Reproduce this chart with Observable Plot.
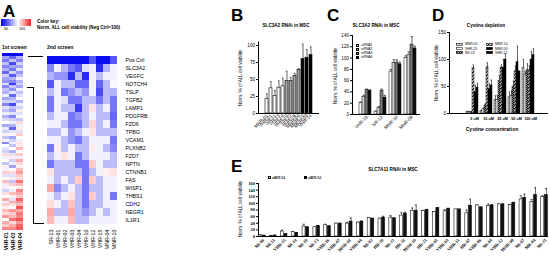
<!DOCTYPE html>
<html><head><meta charset="utf-8">
<script src="https://cdn.jsdelivr.net/npm/d3@7"></script>
<script src="https://cdn.jsdelivr.net/npm/@observablehq/plot@0.6"></script>
<style>
body{margin:0;background:#fff;}
#root{position:relative;width:550px;height:259px;overflow:hidden;font-family:"Liberation Sans",Arial,sans-serif;color:#000;}
.letter{position:absolute;font-weight:bold;font-size:17px;line-height:1;}
.t{position:absolute;white-space:nowrap;line-height:1;font-size:5px;}
.b{font-weight:bold;}
.yl{position:absolute;white-space:nowrap;line-height:1;font-size:4.6px;transform:translate(-50%,-50%) rotate(-90deg);}
.ln{position:absolute;border-color:#000;border-style:solid;border-width:0;}
.sw{position:absolute;border:0.6px solid #000;box-sizing:border-box;}
</style></head><body>
<svg width="0" height="0" style="position:absolute">
<defs>
<pattern id="pDiag" width="2.4" height="2.4" patternUnits="userSpaceOnUse" patternTransform="rotate(45)">
<rect width="2.4" height="2.4" fill="#fff"/><rect width="1.1" height="2.4" fill="#000"/></pattern>
<pattern id="pCheck" width="2" height="2" patternUnits="userSpaceOnUse">
<rect width="2" height="2" fill="#aaa"/><rect width="1" height="1" fill="#222"/><rect x="1" y="1" width="1" height="1" fill="#222"/></pattern>
<pattern id="pHoriz" width="2" height="1.6" patternUnits="userSpaceOnUse">
<rect width="2" height="1.6" fill="#e4e4e4"/><rect width="2" height="0.5" fill="#888"/></pattern>
</defs></svg>
<div id="root"></div>
<script>
// ================= DATA =================
// Panel A – colour key
const keyValues = [20, 30, 40, 50, 60, 70, 80, 90, 100, 110, 120, 130, 140, 150, 160];
const keyLabels = ["60", "100"];
// Panel A – 1st screen (rows top to bottom)
const screen1Cols = ["VHR-01", "VHR-03", "VHR-04"];
const screen1VHR01 = [20, 70, 55, 80, 60, 75, 50, 85, 70, 65, 90, 60, 80, 75, 95, 70, 85, 60, 90, 80,
  95, 75, 88, 100, 70, 92, 85, 105, 80, 95, 60, 100, 90, 85, 110, 95, 100, 80, 105, 95,
  115, 90, 100, 120, 95, 105, 85, 110, 100, 125, 95, 115, 105, 120, 110, 130, 100, 125, 115, 135];
const screen1VHR03 = [15, 50, 80, 40, 70, 55, 85, 45, 75, 60, 35, 80, 65, 90, 50, 75, 85, 40, 80, 70,
  90, 60, 85, 95, 75, 50, 90, 100, 70, 85, 95, 80, 100, 75, 90, 105, 85, 95, 70, 100,
  110, 90, 105, 80, 115, 100, 95, 120, 105, 90, 125, 110, 100, 130, 115, 120, 140, 110, 125, 135];
const screen1VHR04 = [20, 75, 60, 85, 70, 90, 65, 80, 95, 75, 85, 70, 95, 80, 90, 100, 75, 95, 85, 105,
  90, 100, 80, 110, 95, 105, 90, 115, 100, 95, 110, 105, 120, 100, 115, 95, 125, 110, 105, 120,
  130, 115, 110, 140, 120, 105, 135, 125, 115, 145, 130, 120, 150, 125, 140, 135, 150, 130, 145, 150];
// Panel A – 2nd screen
const screen2Cols = ["SR-13", "VHR-01", "VHR-02", "VHR-03", "VHR-04", "VHR-10", "VHR-12", "VHR-15", "MNR-04", "MNR-10"];
const screen2Genes = ["Pos Ctrl", "SLC3A2", "VEGFC", "NOTCH4", "TSLP", "TGFB2", "LAMP1", "PDGFRB", "FZD6", "TPBG", "VCAM1",
  "PLXNB2", "FZD7", "NPTN", "CTNNB1", "FAS", "WISP1", "THBS1", "CDH2", "NEGR1", "IL1R1"];
const screen2Values = [
  [20, 20, 20, 20, 20, 20, 45, 20, 20, 45],
  [60, 95, 75, 55, 45, 90, 95, 30, 75, 95],
  [75, 65, 65, 30, 78, 30, 95, 78, 95, 95],
  [45, 95, 78, 78, 50, 50, 95, 50, 78, 98],
  [78, 95, 55, 65, 78, 65, 95, 40, 78, 75],
  [55, 95, 90, 55, 55, 78, 78, 55, 78, 55],
  [55, 95, 78, 78, 35, 78, 108, 78, 95, 55],
  [78, 95, 95, 55, 65, 78, 95, 78, 78, 50],
  [95, 95, 78, 55, 55, 78, 112, 78, 95, 55],
  [78, 78, 95, 65, 78, 95, 108, 78, 78, 78],
  [95, 95, 78, 65, 55, 78, 95, 95, 95, 55],
  [55, 105, 78, 95, 78, 78, 105, 95, 78, 60],
  [78, 95, 108, 95, 55, 78, 95, 95, 95, 78],
  [55, 78, 78, 78, 55, 55, 115, 95, 78, 78],
  [108, 78, 78, 78, 78, 55, 78, 95, 105, 108],
  [95, 78, 95, 78, 115, 55, 115, 78, 95, 95],
  [125, 60, 78, 95, 78, 55, 78, 78, 95, 95],
  [95, 78, 95, 108, 78, 55, 115, 78, 95, 55],
  [110, 95, 78, 118, 78, 55, 78, 78, 95, 95],
  [125, 78, 78, 125, 78, 65, 78, 95, 78, 95],
  [120, 95, 95, 120, 78, 78, 95, 95, 95, 95]
];
// Panel B
const bLines = ["MNR-01", "VHR-01", "SR-11", "SR-13", "SR-14", "VHR-10", "SR-22", "VHR-16", "MNR-04", "MNR-10", "MNR-09", "VHR-14"];
const bValues = [21, 37, 26, 38, 40, 48, 48, 55, 64, 80, 82, 86];
const bErrors = [8, 10, 8, 10, 12, 14, 5, 4, 2, 22, 12, 12];
const bTier = ["weak", "weak", "weak", "weak", "weak", "mid", "mid", "mid", "mid", "strong", "strong", "strong"];
const bYTicks = [0, 25, 50, 75, 100];
// Panel C
const cLines = ["VHR-15", "SR-13", "MNR-10", "MNR-09"];
const cSeries = ["siRNA1", "siRNA2", "siRNA3", "siRNA4"];
const cSiRNA1 = [20, 5, 76, 100];
const cSiRNA2 = [31, 12, 91, 106];
const cSiRNA3 = [43, 42, 92, 124];
const cSiRNA4 = [42, 30, 89, 117];
const cErr1 = [2, 1, 4, 4];
const cErr2 = [3, 2, 6, 5];
const cErr3 = [2, 3, 5, 14];
const cErr4 = [2, 4, 4, 4];
const cYTicks = [0, 20, 40, 60, 80, 100, 120, 140];
// Panel D
const dConc = ["5 uM", "10 uM", "25 uM", "50 uM", "100 uM"];
const dLines = ["MNR-01", "VHR-15", "SR-13", "MNR-10", "MNR-09", "VHR-12"];
const dMNR01 = [3, 5, 25, 30, 85];
const dVHR15 = [3, 8, 25, 32, 72];
const dSR13 = [3, 15, 60, 50, 80];
const dMNR10 = [85, 86, 85, 78, 80];
const dMNR09 = [40, 45, 85, 95, 100];
const dVHR12 = [48, 52, 100, 78, 108];
const dErrMNR01 = [1, 1, 8, 10, 15];
const dErrVHR15 = [1, 2, 8, 10, 5];
const dErrSR13 = [1, 3, 10, 10, 12];
const dErrMNR10 = [5, 8, 5, 10, 8];
const dErrMNR09 = [12, 10, 15, 30, 15];
const dErrVHR12 = [8, 10, 10, 0, 12];
const dYTicks = [0, 50, 100, 150];
// Panel E
const eLines = ["SR-06", "SR-11", "VHR-15", "SR-14", "SR-10", "SR-13", "VHR-16", "VHR-07", "MNR-01", "VHR-04", "SR-02", "HR-20", "SR-22", "HR-31",
  "MNR-10", "HR-21", "VHR-01", "VHR-03", "VHR-11", "HR-07", "VHR-06", "SR-04", "VHR-12", "MNR-09", "SR-07", "MR-04", "SR-23"];
const eSeries = ["siRNA1", "siRNA2"];
const eSiRNA1 = [5, 2, 15, 13, 30, 28, 35, 39, 39, 42, 56, 54, 57, 63, 77, 77, 74, 76, 82, 70, 94, 92, 97, 95, 112, 104, 119];
const eSiRNA2 = [3, 3, 7, 11, 28, 32, 31, 39, 45, 45, 54, 57, 55, 69, 78, 80, 86, 84, 82, 93, 88, 94, 97, 102, 117, 125, 125];
const eErr1 = [1, 0, 4, 1, 7, 1, 2, 1, 3, 1, 1, 1, 6, 9, 9, 2, 1, 5, 0, 10, 1, 6, 1, 2, 11, 8, 4];
const eErr2 = [0, 1, 1, 1, 1, 1, 1, 1, 11, 2, 1, 4, 1, 4, 17, 2, 1, 1, 0, 20, 1, 2, 1, 1, 11, 22, 20];
const eYTicks = [0, 20, 40, 60, 80, 100, 120, 140, 160];

// ================= STYLES =================
const SANS = "'Liberation Sans', Arial, sans-serif";
const SERIF = "'Liberation Serif', 'Times New Roman', serif";
const bFill = {weak: "#ffffff", mid: "#a3a3a3", strong: "#000000"};
const cFill = {siRNA1: "#ffffff", siRNA2: "#cfcfcf", siRNA3: "#7a7a7a", siRNA4: "#111111"};
const dFill = {"MNR-01": "url(#pHoriz)", "VHR-15": "#ffffff", "SR-13": "url(#pCheck)", "MNR-10": "url(#pDiag)", "MNR-09": "#000000", "VHR-12": "#000000"};
const eFill = {siRNA1: "#ffffff", siRNA2: "#111111"};
const heatColor = {type: "linear", domain: [20, 100, 160], range: ["#0c0cf2", "#ffffff", "#ff3030"], interpolate: "rgb", clamp: true};

// ================= HELPERS =================
const root = document.getElementById("root");
function put(el, left, top) {
  el.style.position = "absolute"; el.style.left = left + "px"; el.style.top = top + "px";
  root.appendChild(el); return el;
}
function txt(s, left, top, cls, css) {
  const d = document.createElement("div");
  d.className = cls || "t"; d.textContent = s;
  if (css) Object.assign(d.style, css);
  d.style.left = left + "px"; d.style.top = top + "px";
  root.appendChild(d); return d;
}
function line(left, top, w, h, sides) {
  const d = document.createElement("div"); d.className = "ln";
  Object.assign(d.style, {left: left + "px", top: top + "px", width: w + "px", height: h + "px"});
  sides.forEach(s => d.style["border" + s + "Width"] = "0.8px");
  root.appendChild(d);
}
function plotAt(box, frame, marginRight, marginBottom, opts, style) {
  const svg = Plot.plot(Object.assign({
    marginLeft: frame.x0 - box.left,
    marginTop: frame.y0 - box.top,
    marginRight, marginBottom,
    width: frame.x1 - box.left + marginRight,
    height: frame.y1 - box.top + marginBottom
  }, opts, {style: Object.assign({background: "transparent", overflow: "visible", fontFamily: SANS, fontSize: "5px", color: "#000"}, style || {})}));
  return put(svg, box.left, box.top);
}
function groupedKeys(groups, series, gap, lead) {
  const keys = [];
  for (let i = 0; i < lead; i++) keys.push("lead" + i);
  groups.forEach((g, gi) => {
    if (gi > 0) for (let k = 0; k < gap; k++) keys.push("gap" + gi + "_" + k);
    series.forEach(s => keys.push(g + "|" + s));
  });
  return keys;
}
function barMarks(data, cap, sw) {
  return [
    Plot.ruleX(data.filter(d => d.err > 0), {x: "key", y1: "value", y2: d => d.value + d.err, stroke: "#000", strokeWidth: 0.6}),
    Plot.tickY(data.filter(d => d.err > 0), {x: "key", y: d => d.value + d.err, stroke: "#000", strokeWidth: 0.6, insetLeft: cap, insetRight: cap}),
    Plot.barY(data, {x: "key", y: "value", fill: "fill", stroke: "#000", strokeWidth: sw}),
    Plot.ruleY([0], {stroke: "#000", strokeWidth: 1})
  ];
}
function yAxis(domain, ticks) {
  return {domain, ticks, tickSize: 2, tickPadding: 1.5, line: true, label: null, nice: false};
}

// ================= PANEL A =================
txt("A", 3, 3, "letter");
plotAt({left: 1, top: 19}, {x0: 1, x1: 31, y0: 19, y1: 26}, 0, 0, {
  x: {type: "band", domain: keyValues, padding: 0, axis: null},
  color: heatColor,
  marks: [Plot.cell(keyValues, {x: d => d, fill: d => d})]
});
txt(keyLabels[0], 4, 28, "t", {fontSize: "3.8px"});
txt(keyLabels[1], 19, 28, "t", {fontSize: "3.8px"});
txt("Color key:", 37, 20, "t b", {fontSize: "4.6px"});
txt("Norm. ALL cell viability   (Neg Ctrl=100)", 37, 26, "t b", {fontSize: "4.6px"});
txt("1st screen", 2, 45, "t b", {fontSize: "5px"});
txt("2nd screen", 47, 45, "t b", {fontSize: "5px"});

const screen1Data = [];
[screen1VHR01, screen1VHR03, screen1VHR04].forEach((arr, ci) =>
  arr.forEach((v, ri) => screen1Data.push({col: screen1Cols[ci], row: ri, v})));
plotAt({left: 0, top: 51}, {x0: 2, x1: 23, y0: 53, y1: 230}, 0, 28, {
  x: {domain: screen1Cols, padding: 0, tickSize: 0, tickPadding: 2, tickRotate: -90, label: null},
  y: {domain: d3.range(screen1VHR01.length), padding: 0, axis: null},
  color: heatColor,
  marks: [Plot.cell(screen1Data, {x: "col", y: "row", fill: "v", shapeRendering: "crispEdges"})]
}, {fontSize: "5px", fontWeight: "bold"});

const screen2Data = screen2Values.flatMap((row, ri) => row.map((v, ci) => ({gene: screen2Genes[ri], col: screen2Cols[ci], v})));
plotAt({left: 43, top: 51}, {x0: 45, x1: 118, y0: 53, y1: 227}, 42, 30, {
  x: {domain: screen2Cols, padding: 0, tickSize: 0, tickPadding: 2, tickRotate: -90, label: null},
  y: {domain: screen2Genes, padding: 0, axis: "right", tickSize: 0, tickPadding: 7, label: null},
  color: heatColor,
  marks: [Plot.cell(screen2Data, {x: "col", y: "gene", fill: "v"})]
}, {fontSize: "5.3px"});
// connector brackets
line(28, 56, 15, 0, ["Top"]);
line(27, 87, 6, 0, ["Top"]);
line(33, 87, 0, 136, ["Left"]);
line(33, 223, 11, 0, ["Top"]);

// ================= PANEL B =================
txt("B", 231, 7, "letter");
txt("SLC3A2 RNAi in MSC", 286, 24, "t b", {fontSize: "4.6px", transform: "translateX(-50%)"});
txt("Norm. % of ALL cell viability", 241, 78, "yl");
const bData = bLines.map((l, i) => ({key: l, value: bValues[i], err: bErrors[i], fill: bFill[bTier[i]]}));
plotAt({left: 225, top: 30}, {x0: 258, x1: 319, y0: 41.6, y1: 113}, 2, 22, {
  x: {domain: bLines, padding: 0.28, tickSize: 0, tickPadding: 1.5, tickRotate: -45, label: null},
  y: yAxis([0, 105], bYTicks),
  color: {type: "identity"},
  marks: barMarks(bData, 0.9, 0.6)
}, {fontSize: "4.6px"});

// ================= PANEL C =================
txt("C", 327, 7, "letter");
txt("SLC3A2 RNAi in MSC", 376, 24, "t b", {fontSize: "4.6px", transform: "translateX(-50%)"});
txt("Norm. % of ALL cell viability", 336, 76, "yl");
const cVals = [cSiRNA1, cSiRNA2, cSiRNA3, cSiRNA4];
const cErrs = [cErr1, cErr2, cErr3, cErr4];
const cData = cLines.flatMap((g, gi) => cSeries.map((s, si) => ({key: g + "|" + s, value: cVals[si][gi], err: cErrs[si][gi], fill: cFill[s]})));
const cKeys = groupedKeys(cLines, cSeries, 1, 1);
const cPad = 0.1, cX0 = 352, cX1 = 420, cStep = (cX1 - cX0) / (cKeys.length + cPad);
plotAt({left: 330, top: 30}, {x0: cX0, x1: cX1, y0: 35, y1: 114}, 2, 22, {
  x: {domain: cKeys, padding: cPad, axis: null},
  y: yAxis([0, 140], cYTicks),
  color: {type: "identity"},
  marks: [
    ...barMarks(cData, 0.5, 0.5),
    Plot.text(cLines, {x: g => g + "|" + cSeries[0], text: d => d, dx: (cSeries.length - 1) * cStep / 2 + 2, frameAnchor: "bottom", dy: 3, rotate: -45, textAnchor: "end"})
  ]
}, {fontSize: "4.6px"});
cSeries.forEach((s, i) => {
  const sw = document.createElement("div"); sw.className = "sw";
  Object.assign(sw.style, {width: "3px", height: "3px", background: cFill[s]});
  put(sw, 356, 44 + i * 4);
  txt(s, 361, 44.2 + i * 4, "t", {fontSize: "3.4px"});
});

// ================= PANEL D =================
txt("D", 432, 7, "letter");
txt("Cystine depletion", 486, 24, "t b", {fontSize: "4.6px", transform: "translateX(-50%)"});
txt("Norm. % of ALL cell viability", 437, 73, "yl");
const dVals = [dMNR01, dVHR15, dSR13, dMNR10, dMNR09, dVHR12];
const dErrs = [dErrMNR01, dErrVHR15, dErrSR13, dErrMNR10, dErrMNR09, dErrVHR12];
const dData = dConc.flatMap((g, gi) => dLines.map((s, si) => ({key: g + "|" + s, value: dVals[si][gi], err: dErrs[si][gi], fill: dFill[s]})));
const dKeys = groupedKeys(dConc, dLines, 1, 1);
const dPad = 0.04, dX0 = 449, dX1 = 548, dStep = (dX1 - dX0) / (dKeys.length + dPad);
plotAt({left: 435, top: 28}, {x0: dX0, x1: dX1, y0: 32, y1: 113}, 2, 18, {
  x: {domain: dKeys, padding: dPad, axis: null},
  y: yAxis([0, 150], dYTicks),
  color: {type: "identity"},
  marks: [
    ...barMarks(dData, 0.6, 0.45),
    Plot.text(dConc, {x: g => g + "|" + dLines[0], text: d => d, dx: (dLines.length - 1) * dStep / 2, frameAnchor: "bottom", dy: 6, fontWeight: "bold", fontSize: 3.8})
  ]
}, {fontSize: "4.6px"});
txt("Cystine concentration", 492, 127, "t b", {fontSize: "5px", transform: "translateX(-50%)"});
dLines.forEach((s, i) => {
  const col = Math.floor(i / 3), row = i % 3;
  const svgNS = "http://www.w3.org/2000/svg";
  const sv = document.createElementNS(svgNS, "svg");
  sv.setAttribute("width", "7"); sv.setAttribute("height", "3");
  const r = document.createElementNS(svgNS, "rect");
  r.setAttribute("x", "0.3"); r.setAttribute("y", "0.3"); r.setAttribute("width", "6.4"); r.setAttribute("height", "2.4");
  r.setAttribute("fill", dFill[s]); r.setAttribute("stroke", "#000"); r.setAttribute("stroke-width", "0.5");
  sv.appendChild(r);
  put(sv, 456 + col * 30, 43 + row * 4.2);
  txt(s, 465 + col * 30, 43.3 + row * 4.2, "t", {fontSize: "3.4px"});
});

// ================= PANEL E =================
txt("E", 231, 158, "letter");
txt("SLC7A11 RNAi in MSC", 393, 168, "t b", {fontSize: "4.6px", transform: "translateX(-50%)"});
txt("Norm. % of ALL cell viability", 241, 209, "yl");
const eVals = [eSiRNA1, eSiRNA2], eErrs = [eErr1, eErr2];
const eData = eLines.flatMap((g, gi) => eSeries.map((s, si) => ({key: g + "|" + s, value: eVals[si][gi], err: eErrs[si][gi], fill: eFill[s]})));
const eKeys = groupedKeys(eLines, eSeries, 1, 0);
const ePad = 0.18, eX0 = 258, eX1 = 548, eStep = (eX1 - eX0) / (eKeys.length + ePad);
plotAt({left: 238, top: 175}, {x0: eX0, x1: eX1, y0: 183, y1: 236}, 2, 24, {
  x: {domain: eKeys, padding: ePad, axis: null},
  y: yAxis([0, 160], eYTicks),
  color: {type: "identity"},
  marks: [
    ...barMarks(eData, 0.5, 0.55),
    Plot.text(eLines, {x: g => g + "|" + eSeries[0], text: d => d, dx: eStep / 2 + 2, frameAnchor: "bottom", dy: 4, rotate: -45, textAnchor: "end"})
  ]
}, {fontSize: "4.4px", fontFamily: SERIF, fontWeight: "bold"});
eSeries.forEach((s, i) => {
  const sw = document.createElement("div"); sw.className = "sw";
  Object.assign(sw.style, {width: "3.2px", height: "3.2px", background: eFill[s]});
  put(sw, 268 + i * 36, 176);
  txt(s, 272 + i * 36, 176, "t b", {fontSize: "4px", fontFamily: SERIF});
});
</script></body></html>
